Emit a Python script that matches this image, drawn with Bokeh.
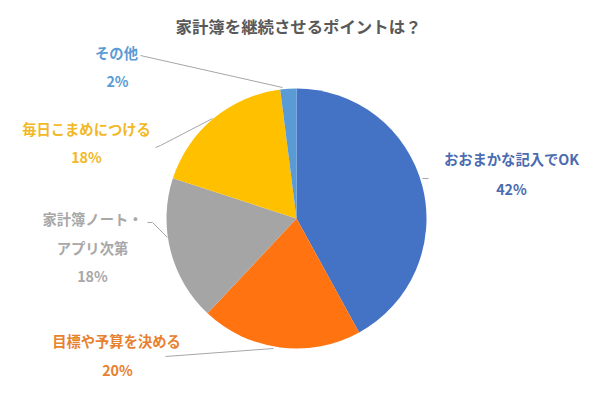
import math
from bokeh.plotting import figure
from bokeh.models import Range1d, ColumnDataSource
from bokeh.core.properties import value
from bokeh.embed import file_html
from bokeh.resources import INLINE

# ---- data ----
title = "家計簿を継続させるポイントは？"
categories = ["おおまかな記入でOK", "目標や予算を決める", "家計簿ノート・\nアプリ次第", "毎日こまめにつける", "その他"]
shares = [42, 20, 18, 18, 2]
pct_labels = ["42%", "20%", "18%", "18%", "2%"]

# ---- styles / layout ----
slice_colors = ["#4472C4", "#FF7410", "#A5A5A5", "#FFC000", "#5B9BD5"]
label_colors = ["#4A6BB0", "#E8812F", "#A8A8A8", "#F2B825", "#5B9BD5"]
FONT = "Noto Sans CJK JP"
W, H = 584, 384

def px(X, Y):
    # reference-image pixel -> data coordinate
    return X, H - Y

center = px(296, 218)
radius = 130
# label anchor (reference pixel) for category line(s) and percentage line
label_pos = [
    ((511, 158), (511, 188)),
    ((116, 340), (117, 369)),
    ((92, 218), (92, 275)),
    ((86, 128), (86, 156)),
    ((116, 52), (117, 80)),
]
line_gap = 29
leaders = [
    [(422, 178), (428, 178)],
    [(165, 356), (273, 348)],
    [(147, 222), (152, 222), (167, 237)],
    [(155, 147), (160, 145), (212, 118)],
    [(140, 55), (282, 87)],
]

p = figure(width=W, height=H, output_backend="svg", toolbar_location=None,
           x_range=Range1d(0, W), y_range=Range1d(0, H), min_border=0)
p.axis.visible = False
p.grid.visible = False
p.outline_line_color = None
p.background_fill_color = "white"
p.border_fill_color = "white"

# wedges
total = sum(shares)
starts, ends = [], []
acc = 0.0
for s in shares:
    a0 = math.pi / 2 - 2 * math.pi * acc / total
    acc += s
    a1 = math.pi / 2 - 2 * math.pi * acc / total
    starts.append(a0)
    ends.append(a1)

src = ColumnDataSource(dict(x=[center[0]] * len(shares), y=[center[1]] * len(shares),
                            start=starts, end=ends, color=slice_colors))
p.wedge(x="x", y="y", radius=radius, start_angle="start", end_angle="end",
        direction="clock", fill_color="color", line_color=None, source=src)

# leader lines
for pts in leaders:
    xs, ys = zip(*[px(*q) for q in pts])
    p.line(list(xs), list(ys), line_color="#A6A6A6", line_width=1)

# labels
tx, ty, tt, tc = [], [], [], []
for i, cat in enumerate(categories):
    (cx, cy), (qx, qy) = label_pos[i]
    for j, line in enumerate(cat.split("\n")):
        x, y = px(cx, cy + j * line_gap)
        tx.append(x); ty.append(y); tt.append(line); tc.append(label_colors[i])
    x, y = px(qx, qy)
    tx.append(x); ty.append(y); tt.append(pct_labels[i]); tc.append(label_colors[i])

p.text(x=tx, y=ty, text=tt, text_color=tc, text_font=value(FONT), text_font_size="14.3px",
       text_font_style="bold", text_align="center", text_baseline="middle")

tx0, ty0 = px(298, 25)
p.text(x=[tx0], y=[ty0], text=[title], text_color="#595959", text_font=value(FONT),
       text_font_size="16.4px", text_font_style="bold", text_align="center", text_baseline="middle")

open("out.html", "w").write(file_html(p, INLINE))
